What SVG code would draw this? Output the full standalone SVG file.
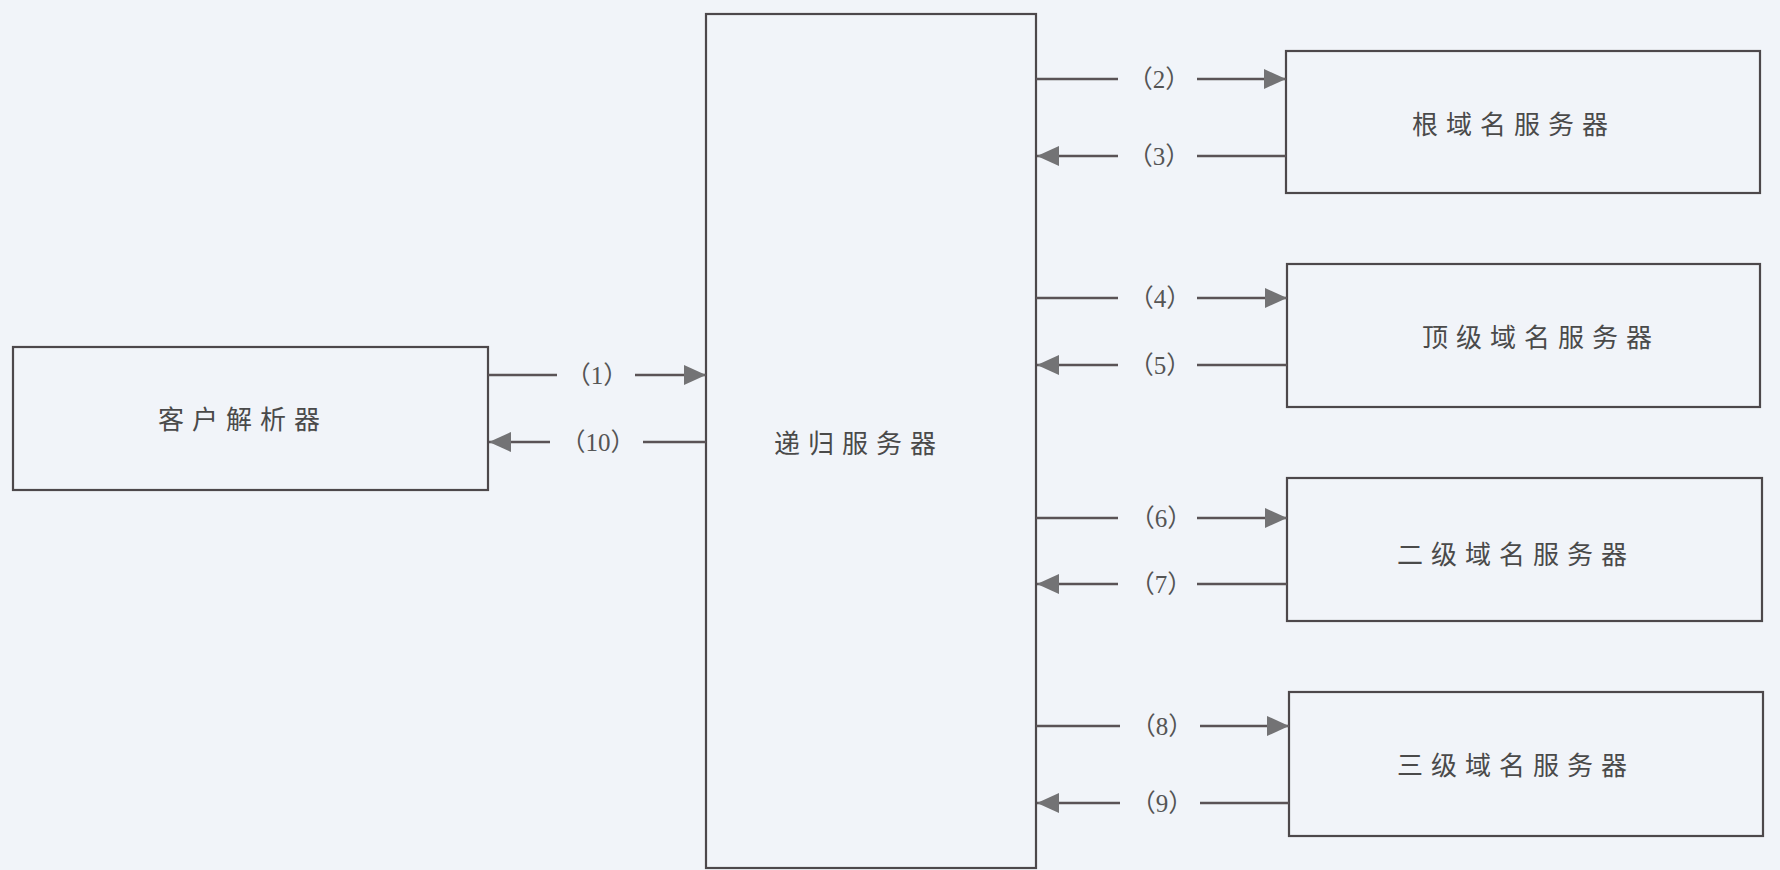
<svg xmlns="http://www.w3.org/2000/svg" width="1780" height="870" viewBox="0 0 1780 870">
<style>
.bg{fill:#f1f4f9}
.box{fill:none;stroke:#4d484b;stroke-width:2.2}
.ln{fill:none;stroke:#5a5356;stroke-width:2.4}
.lbl{font-family:"Noto Sans CJK SC","Noto Sans",sans-serif;font-size:26px;fill:#4a4a4a;letter-spacing:8px;text-anchor:middle;dominant-baseline:central}
.num{font-family:"Liberation Serif","Noto Sans CJK SC",serif;font-size:25px;fill:#555;text-anchor:middle;dominant-baseline:central}
</style>
<defs>
<marker id="ah" markerUnits="userSpaceOnUse" markerWidth="24" markerHeight="22" refX="22" refY="10" orient="auto">
<path d="M0,0 L22,10 L0,20 Z" fill="#737375"/>
</marker>
</defs>
<rect class="bg" x="0" y="0" width="1780" height="870"/>

<g id="client">
<rect class="box" x="13" y="347" width="475" height="143"/>
<text class="lbl" x="243" y="417">客户解析器</text>
</g>
<g id="recursive">
<rect class="box" x="706" y="14" width="330" height="854"/>
<text class="lbl" x="859" y="441">递归服务器</text>
</g>
<g id="root">
<rect class="box" x="1286" y="51" width="474" height="142"/>
<text class="lbl" x="1514" y="122">根域名服务器</text>
</g>
<g id="tld">
<rect class="box" x="1287" y="264" width="473" height="143"/>
<text class="lbl" x="1541" y="335">顶级域名服务器</text>
</g>
<g id="second">
<rect class="box" x="1287" y="478" width="475" height="143"/>
<text class="lbl" x="1516" y="552">二级域名服务器</text>
</g>
<g id="third">
<rect class="box" x="1289" y="692" width="474" height="144"/>
<text class="lbl" x="1516" y="763">三级域名服务器</text>
</g>

<g id="connectors">
<line class="ln" x1="488" y1="375" x2="557" y2="375"/>
<line class="ln" x1="635" y1="375" x2="706" y2="375" marker-end="url(#ah)"/>
<text class="num" x="597" y="375">（1）</text>
<line class="ln" x1="550" y1="442" x2="489" y2="442" marker-end="url(#ah)"/>
<line class="ln" x1="643" y1="442" x2="706" y2="442"/>
<text class="num" x="598" y="442">（10）</text>

<line class="ln" x1="1036" y1="79" x2="1118" y2="79"/>
<line class="ln" x1="1197" y1="79" x2="1286" y2="79" marker-end="url(#ah)"/>
<text class="num" x="1159" y="79">（2）</text>
<line class="ln" x1="1118" y1="156" x2="1037" y2="156" marker-end="url(#ah)"/>
<line class="ln" x1="1197" y1="156" x2="1286" y2="156"/>
<text class="num" x="1159" y="156">（3）</text>

<line class="ln" x1="1036" y1="298" x2="1118" y2="298"/>
<line class="ln" x1="1197" y1="298" x2="1287" y2="298" marker-end="url(#ah)"/>
<text class="num" x="1160" y="298">（4）</text>
<line class="ln" x1="1118" y1="365" x2="1037" y2="365" marker-end="url(#ah)"/>
<line class="ln" x1="1197" y1="365" x2="1287" y2="365"/>
<text class="num" x="1160" y="365">（5）</text>

<line class="ln" x1="1036" y1="518" x2="1118" y2="518"/>
<line class="ln" x1="1197" y1="518" x2="1287" y2="518" marker-end="url(#ah)"/>
<text class="num" x="1161" y="518">（6）</text>
<line class="ln" x1="1118" y1="584" x2="1037" y2="584" marker-end="url(#ah)"/>
<line class="ln" x1="1197" y1="584" x2="1287" y2="584"/>
<text class="num" x="1161" y="584">（7）</text>

<line class="ln" x1="1036" y1="726" x2="1120" y2="726"/>
<line class="ln" x1="1200" y1="726" x2="1289" y2="726" marker-end="url(#ah)"/>
<text class="num" x="1162" y="726">（8）</text>
<line class="ln" x1="1120" y1="803" x2="1037" y2="803" marker-end="url(#ah)"/>
<line class="ln" x1="1200" y1="803" x2="1289" y2="803"/>
<text class="num" x="1162" y="803">（9）</text>
</g>
</svg>
